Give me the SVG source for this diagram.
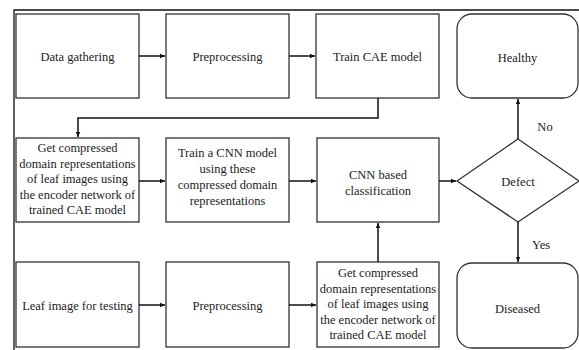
<svg xmlns="http://www.w3.org/2000/svg" width="579" height="350" viewBox="0 0 579 350">
<style>
.box{fill:#fff;stroke:#333;stroke-width:1.3}
.t{font-family:'Liberation Serif','DejaVu Serif',serif;font-size:12.5px;fill:#222;text-anchor:middle}
.c{fill:none;stroke:#111;stroke-width:1.5}
</style>
<defs>
<marker id="ah" markerWidth="6" markerHeight="6" refX="5" refY="3" orient="auto" markerUnits="userSpaceOnUse">
<path d="M0,0.8 L5,3 L0,5.2 Z" fill="#111"/>
</marker>
</defs>
<rect width="579" height="350" fill="#fff"/>
<path d="M14,350 V10 H579" fill="none" stroke="#111" stroke-width="1.3"/>
<g id="data-gathering"><rect class="box" x="16" y="14" width="123" height="84"/><text class="t" x="77.5" y="61">Data gathering</text></g>
<g id="preprocessing-1"><rect class="box" x="166" y="14" width="123" height="84"/><text class="t" x="227.5" y="61">Preprocessing</text></g>
<g id="train-cae"><rect class="box" x="316" y="14" width="123" height="84"/><text class="t" x="377.5" y="61">Train CAE model</text></g>
<g id="healthy"><rect class="box" x="457" y="14" width="121" height="84" rx="15"/><text class="t" x="517.5" y="62">Healthy</text></g>
<g id="get-compressed-1"><rect class="box" x="16" y="138" width="123" height="84"/>
<text class="t" x="77.5" y="152">Get compressed</text>
<text class="t" x="77.5" y="167.5">domain representations</text>
<text class="t" x="77.5" y="183">of leaf images using</text>
<text class="t" x="77.5" y="198.5">the encoder network of</text>
<text class="t" x="77.5" y="214">trained CAE model</text></g>
<g id="train-cnn"><rect class="box" x="166" y="138" width="123" height="84"/>
<text class="t" x="227.5" y="157">Train a CNN model</text>
<text class="t" x="227.5" y="173">using these</text>
<text class="t" x="227.5" y="189">compressed domain</text>
<text class="t" x="227.5" y="205">representations</text></g>
<g id="cnn-classification"><rect class="box" x="317" y="138" width="122" height="84"/>
<text class="t" x="378" y="179">CNN based</text>
<text class="t" x="378" y="195">classification</text></g>
<g id="defect"><path class="box" d="M457,181 L518,139 L579,181 L518,222 Z"/><text class="t" x="518" y="186">Defect</text></g>
<g id="leaf-image"><rect class="box" x="16" y="262" width="123" height="85"/><text class="t" x="77.5" y="310">Leaf image for testing</text></g>
<g id="preprocessing-2"><rect class="box" x="166" y="262" width="123" height="85"/><text class="t" x="227.5" y="310">Preprocessing</text></g>
<g id="get-compressed-2"><rect class="box" x="317" y="262" width="122" height="85"/>
<text class="t" x="378" y="277">Get compressed</text>
<text class="t" x="378" y="292.5">domain representations</text>
<text class="t" x="378" y="308">of leaf images using</text>
<text class="t" x="378" y="323.5">the encoder network of</text>
<text class="t" x="378" y="339">trained CAE model</text></g>
<g id="diseased"><rect class="box" x="457" y="263" width="121" height="85" rx="15"/><text class="t" x="517.5" y="313">Diseased</text></g>
<g id="connectors">
<path class="c" d="M139,56 H165" marker-end="url(#ah)"/>
<path class="c" d="M289,56 H315" marker-end="url(#ah)"/>
<path class="c" d="M378,98 V118 H78 V137" marker-end="url(#ah)"/>
<path class="c" d="M139,181 H165" marker-end="url(#ah)"/>
<path class="c" d="M289,181 H316" marker-end="url(#ah)"/>
<path class="c" d="M439,181 H456" marker-end="url(#ah)"/>
<path class="c" d="M518,139 V99" marker-end="url(#ah)"/>
<path class="c" d="M518,222 V262" marker-end="url(#ah)"/>
<path class="c" d="M139,305 H165" marker-end="url(#ah)"/>
<path class="c" d="M289,305 H316" marker-end="url(#ah)"/>
<path class="c" d="M378,262 V223" marker-end="url(#ah)"/>
<text class="t" x="545" y="131">No</text>
<text class="t" x="541" y="249">Yes</text>
</g>
</svg>
